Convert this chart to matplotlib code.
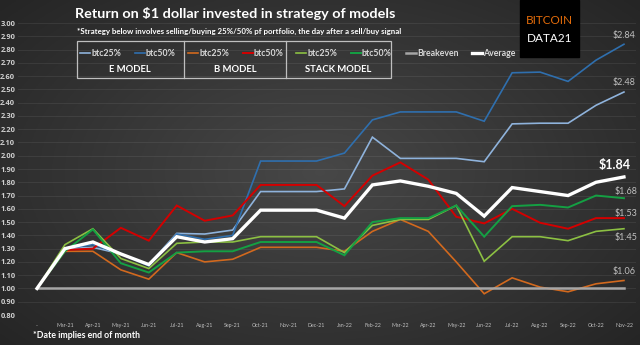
import numpy as np
import matplotlib
matplotlib.use('Agg')
import matplotlib.pyplot as plt
from matplotlib.lines import Line2D
from matplotlib.patches import Rectangle

plt.rcParams['font.family'] = ['Lato', 'DejaVu Sans']

months = ['-', 'Mar-21', 'Apr-21', 'May-21', 'Jun-21', 'Jul-21', 'Aug-21', 'Sep-21',
          'Oct-21', 'Nov-21', 'Dec-21', 'Jan-22', 'Feb-22', 'Mar-22', 'Apr-22', 'May-22',
          'Jun-22', 'Jul-22', 'Aug-22', 'Sep-22', 'Oct-22', 'Nov-22']

# E model
e_btc25 = [1.00, 1.30, 1.31, 1.26, 1.18, 1.415, 1.41, 1.44, 1.73, 1.73, 1.73, 1.75,
           2.14, 1.98, 1.98, 1.98, 1.955, 2.24, 2.245, 2.245, 2.38, 2.48]
e_btc50 = [1.00, 1.30, 1.33, 1.26, 1.17, 1.41, 1.37, 1.40, 1.96, 1.96, 1.96, 2.02,
           2.27, 2.33, 2.33, 2.33, 2.26, 2.625, 2.63, 2.56, 2.72, 2.84]
# B model
b_btc25 = [1.00, 1.28, 1.28, 1.14, 1.07, 1.27, 1.20, 1.22, 1.31, 1.31, 1.31, 1.28,
           1.43, 1.52, 1.43, 1.20, 0.96, 1.08, 1.01, 0.975, 1.035, 1.06]
b_btc50 = [1.00, 1.29, 1.30, 1.457, 1.36, 1.625, 1.51, 1.55, 1.78, 1.78, 1.78, 1.62,
           1.85, 1.95, 1.82, 1.54, 1.49, 1.60, 1.495, 1.45, 1.53, 1.53]
# Stack model
s_btc25 = [1.00, 1.33, 1.45, 1.226, 1.15, 1.34, 1.35, 1.35, 1.39, 1.39, 1.39, 1.27,
           1.475, 1.52, 1.52, 1.625, 1.205, 1.39, 1.39, 1.36, 1.43, 1.45]
s_btc50 = [1.00, 1.28, 1.445, 1.19, 1.12, 1.27, 1.28, 1.28, 1.35, 1.35, 1.35, 1.25,
           1.50, 1.53, 1.53, 1.625, 1.39, 1.62, 1.63, 1.61, 1.70, 1.68]
breakeven = [1.00] * len(months)
average = [1.00, 1.30, 1.35, 1.26, 1.18, 1.39, 1.35, 1.375, 1.59, 1.59, 1.59, 1.53,
           1.78, 1.81, 1.77, 1.716, 1.545, 1.76, 1.73, 1.70, 1.80, 1.84]

W, H = 640, 345
def fx(px):
    return px / W
def fy(py):
    return 1 - py / H

fig = plt.figure(figsize=(6.4, 3.45), dpi=100)

# dark radial background
bg = fig.add_axes([0, 0, 1, 1], zorder=-10)
yy, xx = np.mgrid[0:1:200j, 0:1:320j]
r = np.sqrt((xx - 0.5) ** 2 + ((yy - 0.5) * 0.9) ** 2)
shade = np.clip(0.28 - 0.20 * r, 0, 1)
bg.imshow(np.dstack([shade] * 3), extent=[0, 1, 0, 1], aspect='auto')
bg.axis('off')

ax = fig.add_axes([fx(18), fy(315), fx(636) - fx(18), fy(23) - fy(315)])
ax.set_facecolor('none')
x = np.arange(len(months))

series = [
    (e_btc25, '#8fb3dc', 1.2, 'btc25%'),
    (e_btc50, '#2f6fae', 1.2, 'btc50%'),
    (b_btc25, '#d2691e', 1.2, 'btc25%'),
    (b_btc50, '#d40000', 1.4, 'btc50%'),
    (s_btc25, '#8cc043', 1.2, 'btc25%'),
    (s_btc50, '#14a043', 1.4, 'btc50%'),
    (breakeven, '#a6a6a6', 1.8, 'Breakeven'),
    (average, '#ffffff', 2.4, 'Average'),
]
for vals, col, lw, lab in series:
    ax.plot(x, vals, color=col, lw=lw, solid_joinstyle='miter')

ax.set_xlim((18 - 37) / 27.95, (636 - 37) / 27.95)
ax.set_ylim(0.8, 3.0)
yt = np.round(np.arange(0.8, 3.001, 0.1), 2)
ax.set_yticks(yt)
ax.set_yticklabels([f'{v:.2f}' for v in yt], fontsize=5.4, color='#d0d0d0',
                   fontweight='bold', family=['Open Sans', 'DejaVu Sans'])
ax.set_xticks(x)
ax.set_xticklabels(months, fontsize=3.8, color='#bfbfbf')
ax.tick_params(length=0, pad=2)
ax.tick_params(axis='x', pad=6)
ax.grid(axis='y', color='white', alpha=0.07, lw=0.8)
for s in ax.spines.values():
    s.set_visible(False)

# end-of-series labels
ends = [(e_btc50, 0, 9, 6.5, '#bfbfbf', 'normal'),
        (e_btc25, 0, 10, 6.5, '#bfbfbf', 'normal'),
        (average, -9, 12, 9, 'white', 'bold'),
        (s_btc50, 2, 7, 6.5, '#bfbfbf', 'normal'),
        (b_btc50, 2, 5, 6.5, '#bfbfbf', 'normal'),
        (s_btc25, 2, -9, 6.5, '#bfbfbf', 'normal'),
        (b_btc25, 0, 9, 6.5, '#bfbfbf', 'normal')]
for vals, dx, dy, fs, col, fw in ends:
    ax.annotate(f'${vals[-1]:.2f}', (x[-1], vals[-1]), xytext=(dx, dy),
                textcoords='offset pixels', ha='center', va='center',
                fontsize=fs, color=col, fontweight=fw)

# titles
fig.text(fx(75), fy(13), 'Return on $1 dollar invested in strategy of models',
         fontsize=10.4, fontweight='bold', color='white', va='center')
fig.text(fx(77), fy(31), '*Strategy below involves selling/buying 25%/50% pf portfolio, '
         'the day after a sell/buy signal', fontsize=5.7, fontweight='bold',
         color='white', va='center')
fig.text(fx(33), fy(335), '*Date implies end of month', fontsize=6.3,
         fontweight='bold', color='white', va='center')

# legend box
fig.add_artist(Rectangle((fx(77), fy(78)), fx(391) - fx(77), fy(41) - fy(78),
                         transform=fig.transFigure, fill=False, ec='#bfbfbf', lw=0.9))
for px in (184, 286):
    fig.add_artist(Line2D([fx(px), fx(px)], [fy(41), fy(78)], color='#bfbfbf', lw=0.9))
leg_x = [80, 135, 188, 243, 296, 351, 406, 472]
for lx, (vals, col, lw, lab) in zip(leg_x, series):
    fig.add_artist(Line2D([fx(lx), fx(lx + 10)], [fy(53), fy(53)], color=col, lw=lw))
    fig.text(fx(lx + 11), fy(53), lab, fontsize=6.3, fontweight='bold',
             color='#d9d9d9', va='center')
for cx, lab in [(130, 'E MODEL'), (235, 'B MODEL'), (338, 'STACK MODEL')]:
    fig.text(fx(cx), fy(70), lab, fontsize=6.8, fontweight='bold', color='white',
             ha='center', va='center')

# brand box
fig.add_artist(Rectangle((fx(520), fy(57)), fx(579) - fx(520), fy(0) - fy(57),
                         transform=fig.transFigure, color='black'))
fig.text(fx(549.5), fy(20), 'BITCOIN', fontsize=8.5, color='#e46c0a', ha='center', va='center')
fig.text(fx(549.5), fy(38), 'DATA21', fontsize=8.5, color='white', ha='center', va='center')

fig.savefig('out.png', dpi=100)
